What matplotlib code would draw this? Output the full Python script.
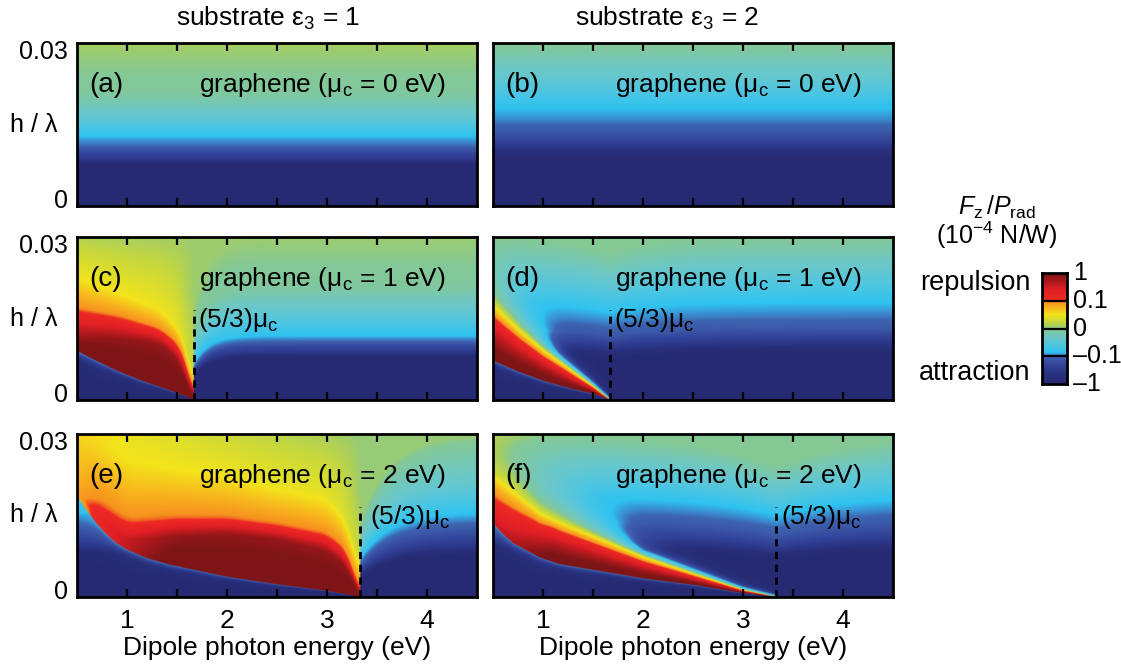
import numpy as np
import matplotlib
matplotlib.use("Agg")
import matplotlib.pyplot as plt
from matplotlib.colors import LinearSegmentedColormap
from matplotlib import transforms

plt.rcParams['font.family'] = ['Liberation Sans', 'DejaVu Sans']
plt.rcParams['mathtext.fontset'] = 'custom'
plt.rcParams['mathtext.rm'] = 'Liberation Sans'
plt.rcParams['mathtext.it'] = 'Liberation Sans:italic'
plt.rcParams['mathtext.bf'] = 'Liberation Sans:bold'

# ---------------- data ----------------
x_limits = [0.5, 4.5]            # dipole photon energy (eV)
h_limits = [0.0, 0.03]           # h / lambda
xtick_values = [1.0, 1.5, 2.0, 2.5, 3.0, 3.5, 4.0]
xtick_labels = ['1', '', '2', '', '3', '', '4']
ytick_values = [0.0, 0.03]
ytick_labels = ['0', '0.03']
cbar_levels = [-2, -1, 0, 1, 2]                     # colour level positions
cbar_labels = ['\u20131', '\u20130.1', '0', '0.1', '1']
column_titles = ['substrate \u03b5$_3$ = 1', 'substrate \u03b5$_3$ = 2']
panel_letters = ['(a)', '(b)', '(c)', '(d)', '(e)', '(f)']
panel_mu = ['0', '0', '1', '1', '2', '2']
crossover_energy = [None, None, 1.667, 1.667, 3.333, 3.333]   # (5/3) mu_c in eV
crossover_line_top = 0.0165

# background (attraction) colour level vs h/lambda, one profile per panel
base_h_a = [0.0, 0.0077, 0.0086, 0.0098, 0.011, 0.0119, 0.0128, 0.0165, 0.0208, 0.03]
base_c_a = [-2.0, -1.95, -1.52, -1.28, -1.0, -0.94, -0.86, -0.4, -0.05, 0.08]
base_h_b = [0.0, 0.009, 0.0115, 0.014, 0.016, 0.018, 0.0238, 0.03]
base_c_b = [-2.0, -1.95, -1.4, -1.05, -0.94, -0.86, -0.4, 0.0]
base_h_c = [0.0, 0.0079, 0.0088, 0.0098, 0.0108, 0.0113, 0.0118, 0.016, 0.021, 0.03]
base_c_c = [-2.0, -1.95, -1.52, -1.28, -1.0, -0.94, -0.86, -0.45, -0.05, 0.06]
base_h_d = [0.0, 0.0088, 0.011, 0.013, 0.0155, 0.0179, 0.024, 0.03]
base_c_d = [-2.0, -1.95, -1.45, -1.1, -0.96, -0.86, -0.4, 0.0]
base_h_e = [0.0, 0.008, 0.0095, 0.011, 0.0128, 0.0142, 0.0155, 0.021, 0.03]
base_c_e = [-2.0, -1.95, -1.55, -1.3, -1.08, -0.96, -0.86, -0.4, 0.05]
base_h_f = [0.0, 0.0089, 0.0115, 0.014, 0.0165, 0.0187, 0.0225, 0.03]
base_c_f = [-2.0, -1.95, -1.4, -1.1, -0.96, -0.86, -0.55, 0.0]

# dip of the background next to (5/3) mu_c: depth/width right, depth/width left
dip_c = [0.45, 0.15, 0.0, 1.0]
dip_d = [0.1, 0.5, 0.1, 0.5]
dip_e = [0.55, 0.3, 0.0, 1.0]
dip_f = [0.2, 0.8, 0.2, 0.8]

# repulsion region (c): lower boundary and contour heights / levels per column
hb_x_c = [0.5, 0.7, 0.93, 1.15, 1.39, 1.55, 1.667]
hb_h_c = [0.009, 0.0071, 0.0051, 0.0035, 0.002, 0.0009, 0.0]
col_x_c = [0.5, 0.93, 1.33, 1.53, 1.61, 1.667]
lev_bnd_c = [2.3, 2.3, 2.3, 2.3, 2.3, 2.3]
h_core_c = [0.0112, 0.0112, 0.0102, 0.007, 0.0026, 0.0]
lev_core_c = [1.85, 1.85, 1.85, 1.85, 1.85, 1.85]
h_red_c = [0.0166, 0.0152, 0.013, 0.0099, 0.0057, 0.0003]
lev_red_c = [1.0, 1.0, 1.0, 1.0, 1.0, 1.0]
h_yel_c = [0.0225, 0.0195, 0.0168, 0.0132, 0.0093, 0.003]
lev_yel_c = [0.5, 0.5, 0.48, 0.42, 0.3, 0.15]
lev_top_c = [0.14, 0.1, 0.08, 0.07, 0.06, 0.06]

# repulsion region (e)
hb_x_e = [0.5, 0.6, 0.7, 0.8, 0.9, 1.0, 1.2, 1.43, 2.0, 2.5, 3.0, 3.333]
hb_h_e = [0.0186, 0.0158, 0.0134, 0.0114, 0.0098, 0.0087, 0.0071, 0.0059,
          0.0037, 0.0023, 0.0011, 0.0]
col_x_e = [0.5, 0.7, 1.0, 1.5, 2.0, 2.5, 3.0, 3.2, 3.333]
lev_bnd_e = [0.8, 1.1, 1.6, 2.3, 2.3, 2.3, 2.3, 2.3, 2.3]
h_core_e = [0.0196, 0.0150, 0.0105, 0.0110, 0.0115, 0.0105, 0.0083, 0.0055, 0.0]
lev_core_e = [0.85, 1.15, 1.55, 1.85, 1.85, 1.85, 1.85, 1.85, 1.85]
h_red_e = [0.0220, 0.0175, 0.0138, 0.0145, 0.0145, 0.0133, 0.0115, 0.0085, 0.0005]
lev_red_e = [0.75, 1.0, 1.0, 1.0, 1.0, 1.0, 1.0, 1.0, 1.0]
h_yel_e = [0.0290, 0.0285, 0.0250, 0.0235, 0.0225, 0.0205, 0.0190, 0.0150, 0.006]
lev_yel_e = [0.6, 0.55, 0.5, 0.5, 0.48, 0.45, 0.42, 0.35, 0.2]
lev_top_e = [0.6, 0.55, 0.45, 0.36, 0.26, 0.18, 0.1, 0.06, 0.05]

# repulsion wedge (d), (f): lower / upper edges, peak level, tail length above
wb_x_d = [0.5, 0.75, 1.0, 1.25, 1.5, 1.667]
wb_h_d = [0.0072, 0.0052, 0.0035, 0.0022, 0.0011, 0.0]
wt_x_d = [0.5, 0.77, 1.0, 1.23, 1.5, 1.667]
wt_h_d = [0.0178, 0.013, 0.0094, 0.0063, 0.0026, 0.0]
wp_x_d = [0.5, 1.667]
wp_c_d = [2.3, 2.3]
tail_x_d = [0.5, 0.8, 1.2, 1.667]
tail_L_d = [0.0055, 0.003, 0.0015, 0.0005]
wb_x_f = [0.5, 0.6, 0.7, 0.97, 1.17, 2.0, 2.5, 3.0, 3.333]
wb_h_f = [0.0135, 0.0115, 0.0099, 0.0072, 0.0060, 0.0034, 0.0022, 0.0007, 0.0]
wt_x_f = [0.5, 0.7, 0.97, 1.17, 2.0, 2.5, 3.0, 3.333]
wt_h_f = [0.023, 0.020, 0.0158, 0.014, 0.0075, 0.0044, 0.0013, 0.0]
wp_x_f = [0.5, 0.8, 1.1, 3.333]
wp_c_f = [1.5, 1.8, 2.3, 2.3]
tail_x_f = [0.5, 1.0, 1.5, 2.0, 3.333]
tail_L_f = [0.009, 0.006, 0.003, 0.0015, 0.0004]

# ---------------- colour map (levels -2..2  <->  -1, -0.1, 0, 0.1, 1) ----------------
cmap_nodes = [
    (0.000, '#262a72'), (0.060, '#282f7a'), (0.120, '#2c388a'), (0.180, '#34479c'),
    (0.220, '#3a55a5'), (0.250, '#3d64b0'), (0.265, '#3a8ccf'), (0.285, '#2fc3f0'),
    (0.350, '#50c6e0'), (0.420, '#6cc8c8'), (0.500, '#84c896'), (0.520, '#a5ce62'),
    (0.560, '#c8d83c'), (0.625, '#f3e41b'), (0.690, '#f8b41e'), (0.740, '#f6921e'),
    (0.760, '#ee2a24'), (0.850, '#e11f25'), (0.930, '#a8181c'), (1.000, '#7e1517')]
cmap = LinearSegmentedColormap.from_list('force', cmap_nodes, N=1024)

# ---------------- fields ----------------
xg = np.linspace(x_limits[0], x_limits[1], 1000)
hg = np.linspace(h_limits[0], h_limits[1], 500)
X, H = np.meshgrid(xg, hg)


def smooth_curve(y, n=41):
    k = np.ones(n) / n
    yp = np.pad(y, (n // 2, n - 1 - n // 2), mode='edge')
    return np.convolve(yp, k, mode='valid')


def background(bh, bc, xc=None, dip=None):
    if xc is None:
        return np.interp(H, bh, bc)
    right = X >= xc
    depth = np.where(right, dip[0], dip[2])
    wid = np.where(right, dip[1], dip[3])
    g = 1.0 - depth * np.exp(-np.abs(X - xc) / wid)
    return np.interp(H / g, bh, bc)


def fringe(base, hb, mask):
    # thin sign-change fringe just below the repulsion boundary
    Lf = 0.12 * np.maximum(hb, 1e-6)
    c_fr = base + (-0.9 - base) * np.exp(-np.clip(hb - H, 0, None) / Lf)
    return np.where(mask, np.maximum(base, c_fr), base)


def table_field(bh, bc, xc, dip, hbx, hbh, colx, heights, levels):
    base = background(bh, bc, xc, dip)
    hb = np.interp(X, hbx, hbh)
    c = fringe(base, hb, (X < xc) & (H <= hb))
    left = np.where(xg < xc)[0]
    xs = xg[left]
    hb_s = np.interp(xs, hbx, hbh)
    hcurves = [hb_s] + [smooth_curve(np.interp(xs, colx, hh)) for hh in heights]
    ccurves = [smooth_curve(np.interp(xs, colx, lv)) for lv in levels]
    # background just right of the crossover line, used to join the upper part smoothly
    base_line = np.interp(hg / (1.0 - dip[0]), bh, bc)
    h_ramp = np.clip((hg - 0.012) / 0.008, 0, 1)
    for n, j in enumerate(left):
        hk = np.array([hc[n] for hc in hcurves] + [h_limits[1]])
        hk = np.maximum.accumulate(hk)
        ck = np.array([cc[n] for cc in ccurves])
        prof = np.interp(hg, hk, ck)
        w = np.exp(-(xc - xg[j]) / 0.06) * h_ramp
        prof = (1 - w) * prof + w * base_line
        sel = hg > hk[0]
        c[sel, j] = prof[sel]
    return np.clip(c, -2, 2)


def wedge_field(bh, bc, xc, dip, wbx, wbh, wtx, wth, wpx, wpc, tx, tL):
    base = background(bh, bc, xc, dip)
    hb = np.interp(X, wbx, wbh)
    ht = np.interp(X, wtx, wth)
    peak = np.interp(X, wpx, wpc)
    width = np.maximum(ht - hb, 1e-7)
    u = np.clip((H - hb) / width, 0, 1)
    c_top = 0.3
    c_in = peak - (peak - c_top) * (0.775 * u + 0.225 * u ** 6)
    Lb = np.interp(X, tx, tL)
    c_ab = base + (c_top - base) * np.exp(-(H - ht) / Lb)
    inside = (X < xc) & (H >= hb) & (H <= ht)
    above = (X < xc) & (H > ht)
    c = fringe(base, hb, (X < xc) & (H < hb))
    c[inside] = c_in[inside]
    c[above] = c_ab[above]
    return np.clip(c, -2, 2)


fields = [
    background(base_h_a, base_c_a),
    background(base_h_b, base_c_b),
    table_field(base_h_c, base_c_c, crossover_energy[2], dip_c, hb_x_c, hb_h_c, col_x_c,
                [h_core_c, h_red_c, h_yel_c],
                [lev_bnd_c, lev_core_c, lev_red_c, lev_yel_c, lev_top_c]),
    wedge_field(base_h_d, base_c_d, crossover_energy[3], dip_d, wb_x_d, wb_h_d,
                wt_x_d, wt_h_d, wp_x_d, wp_c_d, tail_x_d, tail_L_d),
    table_field(base_h_e, base_c_e, crossover_energy[4], dip_e, hb_x_e, hb_h_e, col_x_e,
                [h_core_e, h_red_e, h_yel_e],
                [lev_bnd_e, lev_core_e, lev_red_e, lev_yel_e, lev_top_e]),
    wedge_field(base_h_f, base_c_f, crossover_energy[5], dip_f, wb_x_f, wb_h_f,
                wt_x_f, wt_h_f, wp_x_f, wp_c_f, tail_x_f, tail_L_f),
]

# ---------------- figure ----------------
W, Hpx = 1121, 666
fig = plt.figure(figsize=(W / 100, Hpx / 100), dpi=100)
FS = 19
FT = 18

col_left = [77, 493]
col_width = 400
row_top = [43, 237, 434]
row_height = 163


def fx(px):
    return px / W


def fy(py):
    return 1 - py / Hpx


axes = []
for i in range(6):
    r, cidx = divmod(i, 2)
    ax = fig.add_axes([fx(col_left[cidx]), fy(row_top[r] + row_height),
                       col_width / W, row_height / Hpx])
    axes.append(ax)
    ax.imshow(fields[i], cmap=cmap, vmin=-2, vmax=2, origin='lower', aspect='auto',
              extent=[x_limits[0], x_limits[1], h_limits[0], h_limits[1]],
              interpolation='bilinear')
    ax.set_xlim(x_limits)
    ax.set_ylim(h_limits)
    ax.set_xticks(xtick_values)
    if r == 2:
        ax.set_xticklabels(xtick_labels, fontsize=FT + 1)
    else:
        ax.set_xticklabels([''] * len(xtick_values))
    ax.tick_params(axis='x', direction='in', top=True, bottom=True, length=6,
                   width=1.6, pad=9, color='black')
    ax.set_yticks([])
    for sp in ax.spines.values():
        sp.set_linewidth(2.0)
    if cidx == 0:
        yt = ax.get_yaxis_transform()
        ax.text(-0.022, ytick_values[1], ytick_labels[1], transform=transforms.offset_copy(
            yt, fig=fig, x=0, y=-9, units='dots'), ha='right', va='center', fontsize=FT)
        ax.text(-0.022, ytick_values[0], ytick_labels[0], transform=transforms.offset_copy(
            yt, fig=fig, x=0, y=5, units='dots'), ha='right', va='center', fontsize=FT)
    ax.text(0.03, 0.745, panel_letters[i], transform=ax.transAxes, ha='left',
            va='center', fontsize=FS + 1)
    ax.text(0.922, 0.745, 'graphene (\u03bc$_\\mathrm{c}$ = %s eV)' % panel_mu[i],
            transform=ax.transAxes, ha='right', va='center', fontsize=FS)
    xc = crossover_energy[i]
    if xc is not None:
        ax.plot([xc, xc], [0, crossover_line_top], color='black', lw=2,
                linestyle=(0, (2.6, 2.0)), clip_on=False)
        off = 0.1 if i == 4 else 0.045
        ax.text(xc + off, 0.0148, '(5/3)\u03bc$_\\mathrm{c}$', ha='left', va='center',
                fontsize=FS)

# h / lambda labels
for r in range(3):
    fig.text(fx(34), fy(row_top[r] + row_height / 2), 'h / \u03bb', ha='center',
             va='center', fontsize=FT)

# column titles and x labels
fig.text(fx(268), fy(18), column_titles[0], ha='center', va='center', fontsize=FS)
fig.text(fx(667), fy(18), column_titles[1], ha='center', va='center', fontsize=FS)
for cidx in range(2):
    fig.text(fx(col_left[cidx] + col_width / 2), fy(648), 'Dipole photon energy (eV)',
             ha='center', va='center', fontsize=FS)

# colour bar
cax = fig.add_axes([fx(1042), fy(384), 25 / W, 111 / Hpx])
grad = np.linspace(-2, 2, 400)[:, None]
cax.imshow(grad, cmap=cmap, vmin=-2, vmax=2, origin='lower', aspect='auto',
           extent=[0, 1, -2, 2])
cax.set_xlim(0, 1)
cax.set_ylim(-2, 2)
for lv in cbar_levels[1:-1]:
    cax.axhline(lv, color='black', lw=1.6)
cax.set_xticks([])
cax.set_yticks([])
for sp in cax.spines.values():
    sp.set_linewidth(2.0)
for lv, lab in zip(cbar_levels, cbar_labels):
    cax.text(1.25, lv, lab, transform=cax.get_yaxis_transform(), ha='left',
             va='center', fontsize=FT)
fig.text(fx(997), fy(207), r'$F_\mathrm{z}\,/P_\mathrm{rad}$', ha='center',
         va='center', fontsize=FT)
fig.text(fx(997), fy(235), r'(10$^{-4}$ N/W)', ha='center', va='center', fontsize=FT)
fig.text(fx(1030), fy(283), 'repulsion', ha='right', va='center', fontsize=FS + 0.5)
fig.text(fx(1030), fy(373), 'attraction', ha='right', va='center', fontsize=FS + 0.5)

fig.savefig('out.png', dpi=100)
